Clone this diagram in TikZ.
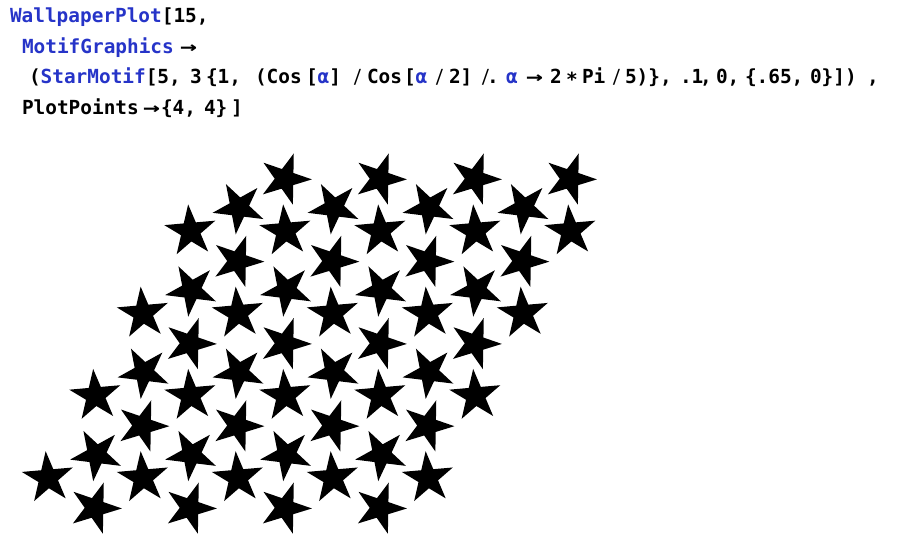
\documentclass[tikz,border=0pt]{standalone}
\usepackage{fontspec}
\usepackage{graphicx}
\setmonofont{DejaVu Sans Mono}
\definecolor{mblue}{RGB}{38,52,200}
\tikzset{
  code/.style={font=\fontsize{19.4}{23}\selectfont\ttfamily\bfseries, anchor=base west, inner sep=0pt, outer sep=0pt, text=black},
  blu/.style={code, text=mblue},
  starfill/.style={fill=black},
}
\newcommand\Ro{26.9pt}
\newcommand\Ri{10.3pt}
\newcommand\rarr{\scalebox{1.45}[1]{→}}
\newcommand\slsh{\scalebox{0.75}[1]{/}}
\newcommand\onestar[3]{\fill[starfill,shift={(#1,-(#2))},rotate=#3] (90:\Ro) -- (126:\Ri) -- (162:\Ro) -- (198:\Ri) -- (234:\Ro) -- (270:\Ri) -- (306:\Ro) -- (342:\Ri) -- (18:\Ro) -- (54:\Ri) -- cycle;}
\begin{document}
\begin{tikzpicture}[x=1pt,y=1pt]
\useasboundingbox (0,0) rectangle (899,-540);
% line 1
\node[blu] (w1) at (10,-23) {WallpaperPlot};
\node[code] (w2) at (w1.base east) {[15,};
% line 2
\node[blu] (m1) at (22,-54) {MotifGraphics};
\node[code] (m2) at (180,-54) {\rarr};
% line 3
\node[code] (s0) at (29,-83.5) {(};
\node[blu] (s1) at (s0.base east) {StarMotif};
\node[code] (s2) at (s1.base east) {[5,};
\node[code] (s3) at (190,-83.5) {3};
\node[code] (s4) at (206,-83.5) {\{1,};
\node[code] (s5) at (255,-83.5) {(Cos};
\node[code] (s6) at (306,-83.5) {[};
\node[blu] (s7) at (s6.base east) {α};
\node[code] (s8) at (s7.base east) {]};
\node[code] (s9) at (353,-83.5) {\slsh};
\node[code] (s10) at (367,-83.5) {Cos};
\node[code] (s11) at (404,-83.5) {[};
\node[blu] (s12) at (s11.base east) {α};
\node[code] (s13) at (435,-83.5) {\slsh};
\node[code] (s14) at (449,-83.5) {2]};
\node[code] (s15) at (481,-83.5) {\slsh};
\node[code] (s15b) at (487,-83.5) {.};
\node[blu] (s16) at (506,-83.5) {α};
\node[code] (s17) at (526,-83.5) {\rarr};
\node[code] (s18) at (550,-83.5) {2};
\node[code] (s19) at (566,-86.5) {*};
\node[code] (s20) at (582,-83.5) {Pi};
\node[code] (s21) at (612,-83.5) {\slsh};
\node[code] (s22) at (625,-83.5) {5)\},};
\node[code] (s23) at (680,-83.5) {.1};
\node[code] (s23b) at (700,-83.5) {,};
\node[code] (s24) at (716,-83.5) {0,};
\node[code] (s25) at (745,-83.5) {\{.65,};
\node[code] (s26) at (810,-83.5) {0\}])};
\node[code] (s27) at (867,-83.5) {,};
% line 4
\node[code] (p1) at (22,-115) {PlotPoints};
\node[code] (p2) at (143,-115) {\rarr};
\node[code] (p3) at (161,-115) {\{4,};
\node[code] (p4) at (204,-115) {4\}};
\node[code] (p5) at (231,-115) {]};
% stars: three orientations on a hexagonal lattice
\foreach \j in {0,...,3}{\foreach \i in {0,...,4}{\onestar{48+95*\i+47.5*\j}{478-82.27*\j}{5}}}
\foreach \j in {0,...,4}{\foreach \i in {0,...,3}{\onestar{95+95*\i+47.5*\j}{508-82.27*\j}{-19}}}
\foreach \j in {0,...,3}{\foreach \i in {0,...,3}{\onestar{96.5+95*\i+47.5*\j}{454.5-82.27*\j}{-43}}}
\end{tikzpicture}
\end{document}
